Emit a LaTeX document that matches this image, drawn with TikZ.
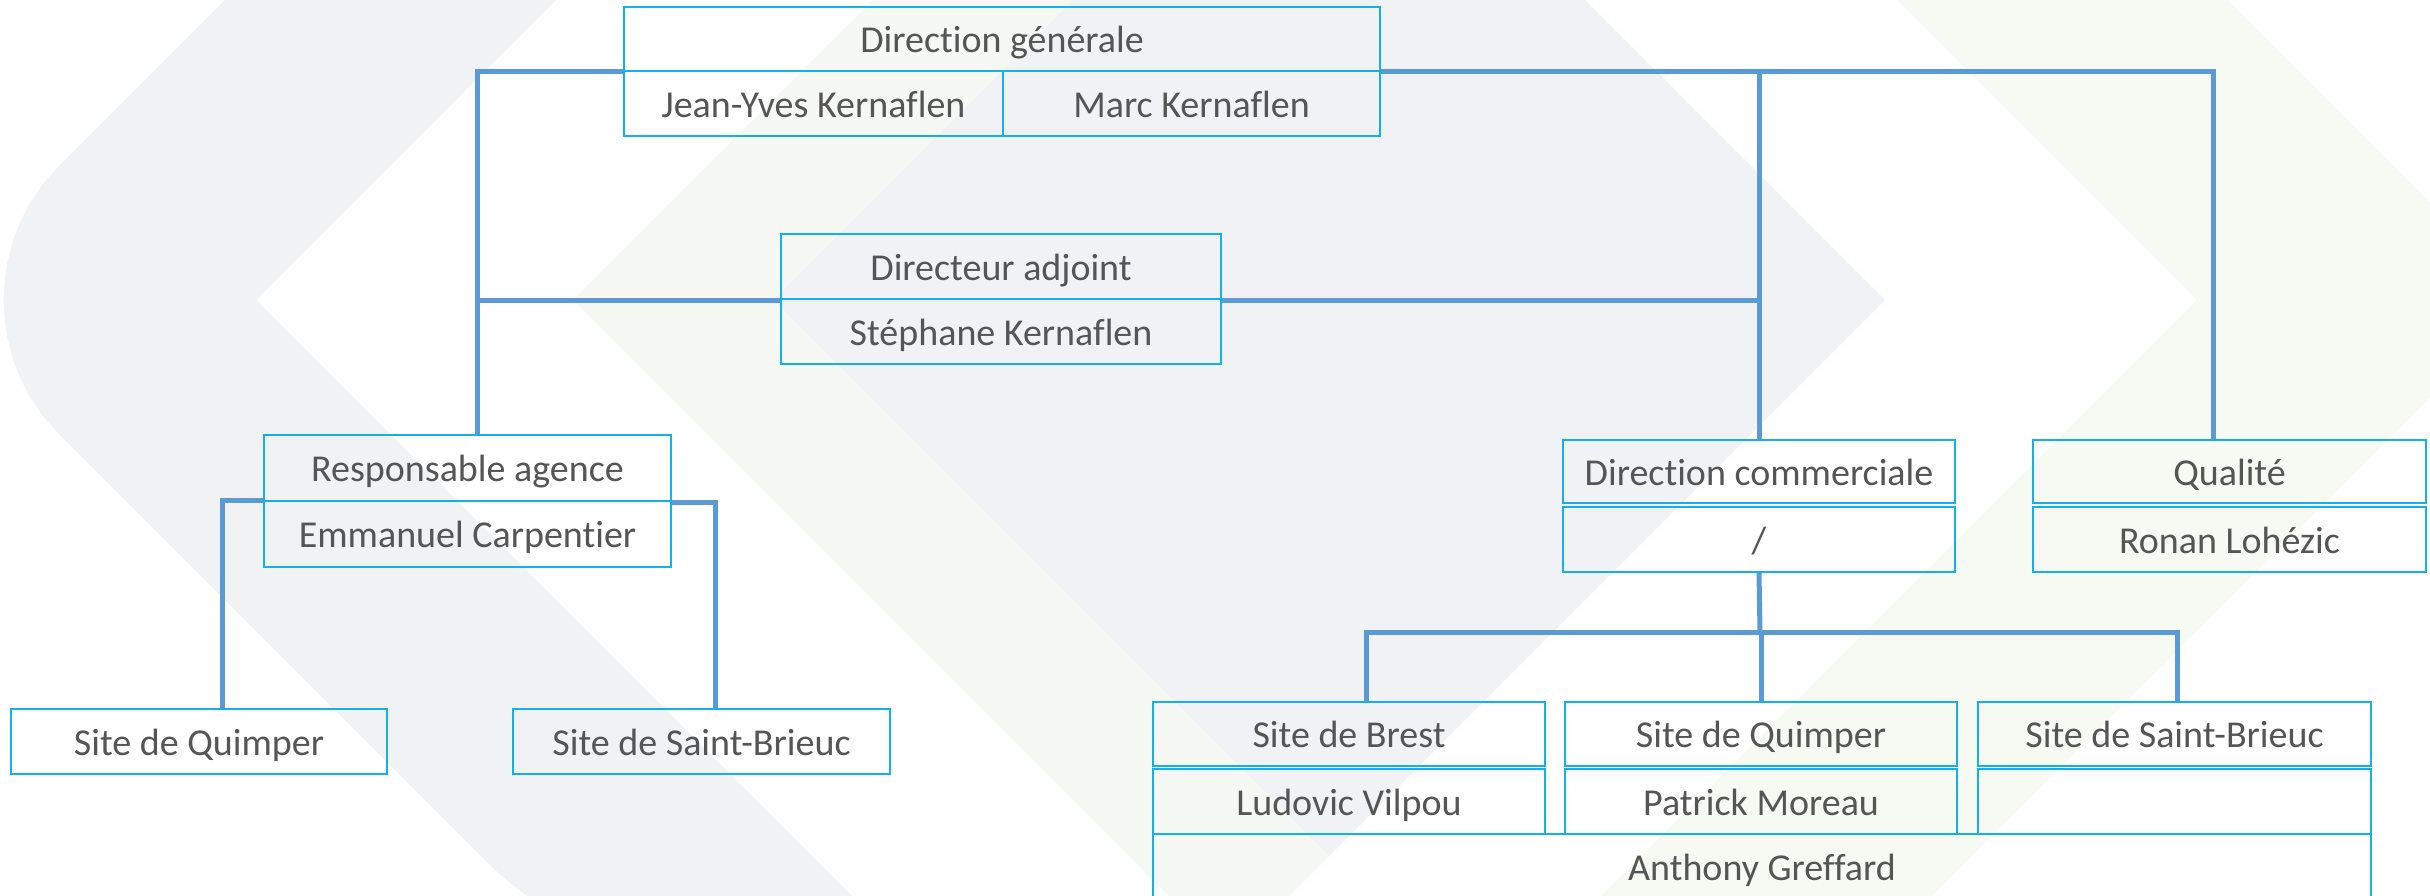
\documentclass[tikz,border=0pt]{standalone}
\usepackage{fontspec}
\setmainfont{Carlito}[Ligatures=NoCommon]
\definecolor{linkblue}{HTML}{5B9BD5}
\definecolor{bord}{HTML}{12B0EE}
\definecolor{txt}{HTML}{555555}
\definecolor{bggray}{HTML}{F1F2F4}
\definecolor{bgmid}{HTML}{F0F2F5}
\definecolor{bggreen}{HTML}{F7F9F3}
\definecolor{bggreenb}{HTML}{F6F8F3}
\tikzset{
  orgbox/.style={draw=bord, line width=2pt, rectangle, inner sep=0pt,
    text=txt, font=\fontsize{38}{45}\selectfont,
    text height=36pt, text depth=8.6pt},
  link/.style={draw=linkblue, line width=5pt},
}
\begin{document}
\begin{tikzpicture}[x=1pt, y=-1pt]
\useasboundingbox (0,0) rectangle (2430,896);
% background watermark
\begin{scope}
\clip (0,0) rectangle (2430,896);
\fill[white] (0,0) rectangle (2430,896);
\fill[bggray] (325,-100) [rounded corners=190pt] -- (-75,300) -- (621,996) [sharp corners] -- (952,996) -- (256,300) -- (656,-100) -- cycle;
\fill[bgmid] (973,-100) -- (573,300) -- (1229,956) -- (1885,300) -- (1485,-100) -- cycle;
\fill[bggreenb] (973,-100) -- (573,300) -- (1229,956) -- (1329,856) -- (773,300) -- (1173,-100) -- cycle;
\fill[bggreen] (1797,-100) -- (2197,300) -- (1501,996) -- (1832,996) -- (2527,300) -- (2127,-100) -- cycle;
\end{scope}

% boxes
\node[orgbox, minimum width=756pt, minimum height=64pt] (dgt) at (1002,39) {Direction générale};
\node[orgbox, minimum width=379pt, minimum height=65pt] (jy) at (813.5,103.5) {Jean-Yves Kernaflen};
\node[orgbox, minimum width=377pt, minimum height=65pt] (mk) at (1191.5,103.5) {Marc Kernaflen};

\node[orgbox, minimum width=440pt, minimum height=65pt] (dat) at (1001,266.5) {Directeur adjoint};
\node[orgbox, minimum width=440pt, minimum height=65pt] (dan) at (1001,331.5) {Stéphane Kernaflen};

\node[orgbox, minimum width=407pt, minimum height=66pt] (rat) at (467.5,468) {Responsable agence};
\node[orgbox, minimum width=407pt, minimum height=66pt] (ran) at (467.5,534) {Emmanuel Carpentier};

\node[orgbox, minimum width=376pt, minimum height=65pt] (sq1) at (199,741.5) {Site de Quimper};
\node[orgbox, minimum width=377pt, minimum height=65pt] (ssb1) at (701.5,741.5) {Site de Saint-Brieuc};

\node[orgbox, minimum width=392pt, minimum height=63pt] (dct) at (1759,471.5) {Direction commerciale};
\node[orgbox, minimum width=392pt, minimum height=65pt] (dcn) at (1759,539.5) {/};
\node[orgbox, minimum width=393pt, minimum height=63pt] (qt) at (2229.5,471.5) {Qualité};
\node[orgbox, minimum width=393pt, minimum height=65pt] (qn) at (2229.5,539.5) {Ronan Lohézic};

\node[orgbox, minimum width=392pt, minimum height=64pt] (sb) at (1349,734) {Site de Brest};
\node[orgbox, minimum width=392pt, minimum height=65pt] (sbn) at (1349,801.5) {Ludovic Vilpou};
\node[orgbox, minimum width=392pt, minimum height=64pt] (sq2) at (1761,734) {Site de Quimper};
\node[orgbox, minimum width=392pt, minimum height=65pt] (sqn) at (1761,801.5) {Patrick Moreau};
\node[orgbox, minimum width=393pt, minimum height=64pt] (ssb2) at (2174.5,734) {Site de Saint-Brieuc};
\node[orgbox, minimum width=393pt, minimum height=65pt] (ssbn) at (2174.5,801.5) {};
\node[orgbox, minimum width=1218pt, minimum height=66pt] (ag) at (1762,867) {Anthony Greffard};

% connectors
\coordinate (dchub) at (1760,632);
\draw[link] (dgt.south west) -| ([xshift=9.5pt]rat.north);
\draw[link] (dgt.south east) -| ([xshift=-16.5pt]qt.north);
\draw[link] (dct.north) -- (dct.north |- dgt.south);
\draw[link] (dat.south west) -- ([xshift=9.5pt]rat.north |- dat.south west);
\draw[link] (dat.south east) -- (dat.south east -| dct.north);
\draw[link] (ran.north west) -| ([xshift=23pt]sq1.north);
\draw[link] ([yshift=-2pt]ran.north east) -| ([xshift=13.5pt]ssb1.north);
\draw[link] (dcn.south) -- (dchub);
\draw[link] ([xshift=17pt]sb.north) |- (dchub) -| ([xshift=2.5pt]ssb2.north);
\draw[link] (sq2.north) -- (sq2.north |- dchub);
\end{tikzpicture}
\end{document}
